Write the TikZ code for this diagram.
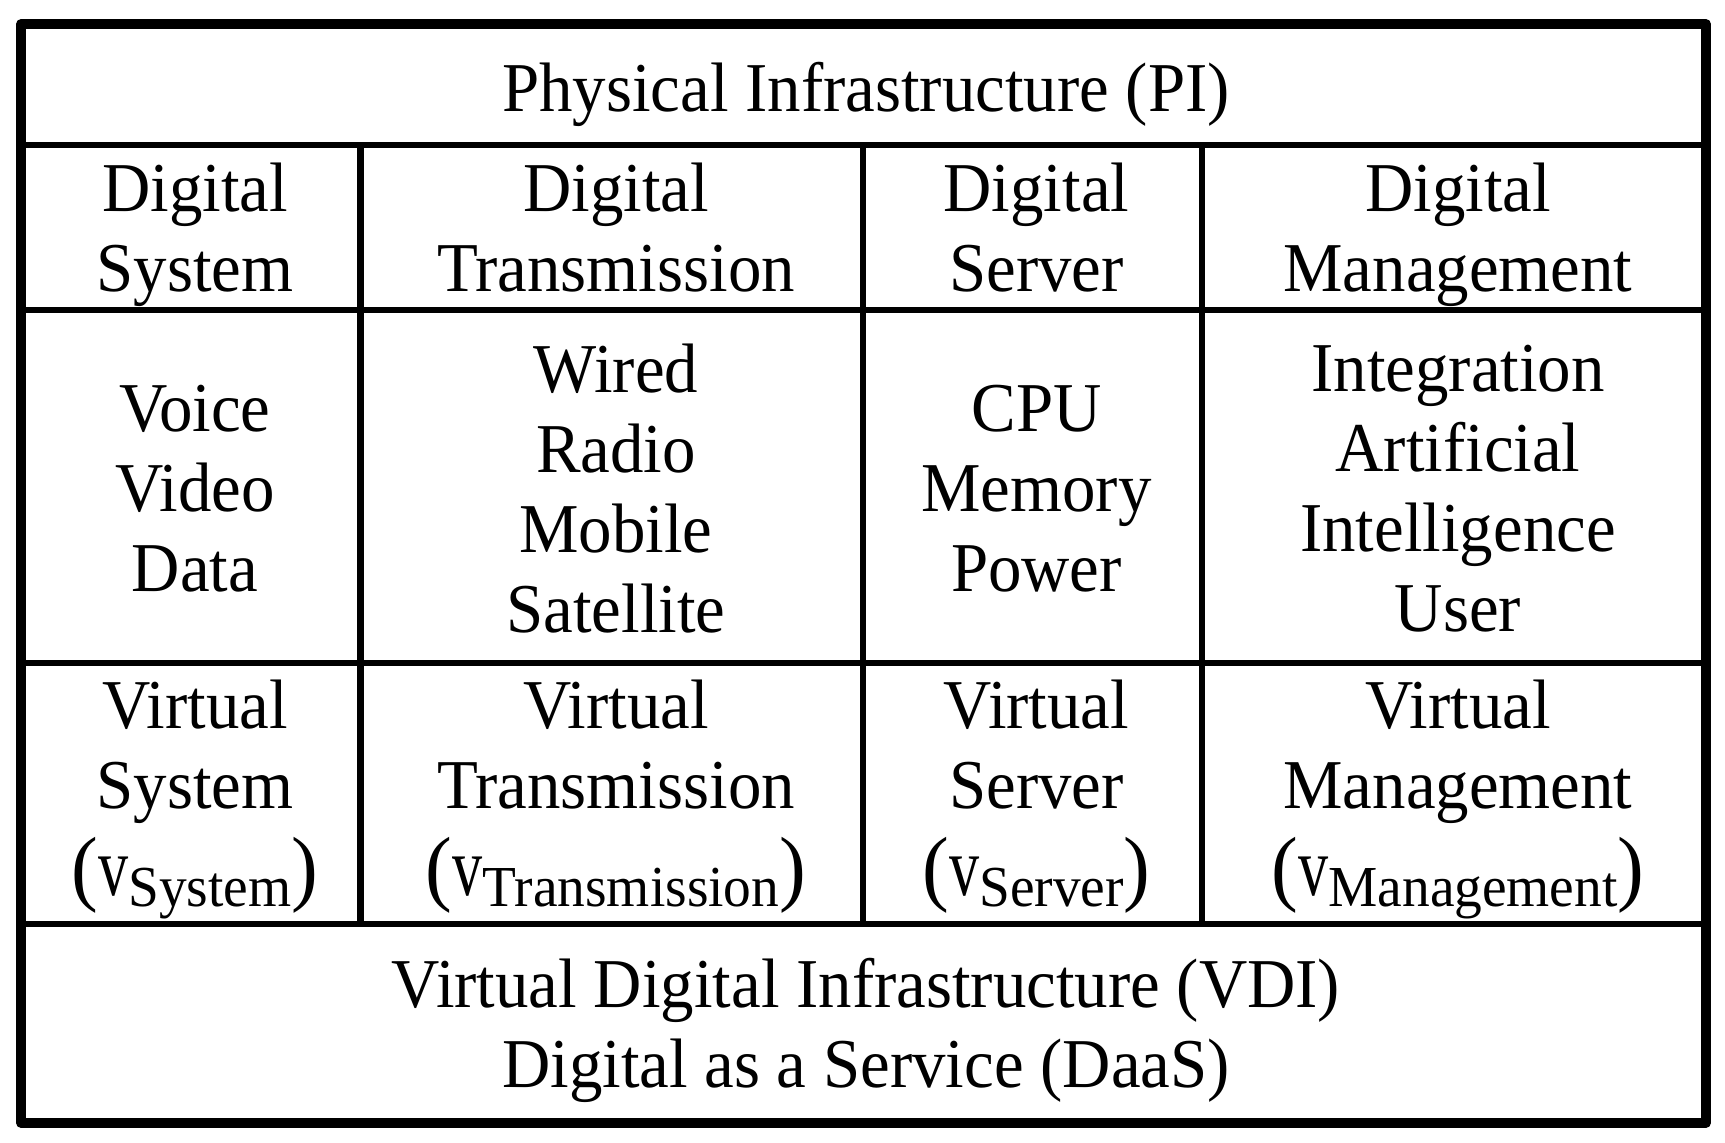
\documentclass[tikz,border=0pt]{standalone}
\usepackage{fontspec}
\usepackage{graphicx}
\usepackage{tikz}
\setmainfont[FakeStretch=0.955]{Liberation Serif}
\newcommand{\celltext}{\fontsize{35}{40}\selectfont}
\newcommand{\vname}[1]{{\fontsize{42}{42}\selectfont(\scalebox{0.75}[1]{v}}\raisebox{-5.5pt}{\fontsize{29}{29}\selectfont #1}{\fontsize{42}{42}\selectfont)}}

\begin{document}
\begin{tikzpicture}[x=0.5pt, y=-0.5pt, frame/.style={line width=4.75pt, line join=round}, rule/.style={line width=3.25pt}, cell/.style={align=center, font=\celltext, inner sep=0pt, execute at begin node=\strut, execute at end node=\strut}]
      \useasboundingbox (0,0) rectangle (1725,1143);

      \foreach \y in {145, 310, 663, 924}
      \draw[rule] (21,\y) -- (1706,\y);
      \foreach \x in {360.5, 863, 1202}
      \draw[rule] (\x,145) -- (\x,924);
      \draw[frame] (21,24) rectangle (1706,1123);

      \node[cell] (pi) at (866,96) {Physical Infrastructure (PI)};

      \node[cell] (dsystem) at (195,239.5) {Digital\\System};
      \node[cell] (dtrans) at (616,239.5) {Digital\\Transmission};
      \node[cell] (dserver) at (1036.5,239.5) {Digital\\Server};
      \node[cell] (dmanage) at (1458,239.5) {Digital\\Management};

      \node[cell] (media) at (195,500.5) {Voice\\Video\\Data};
      \node[cell] (links) at (616,500.5) {Wired\\Radio\\Mobile\\Satellite};
      \node[cell] (parts) at (1036.5,500.5) {CPU\\Memory\\Power};
      \node[cell] (tools) at (1458,500.5) {Integration\\Artificial\\Intelligence\\User};

      \node[cell] (vsystem) at (195,799.75) {Virtual\\System\\[3.75pt]\vname{System}};
      \node[cell] (vtrans) at (616,799.75) {Virtual\\Transmission\\[3.75pt]\vname{Transmission}};
      \node[cell] (vserver) at (1036.5,799.75) {Virtual\\Server\\[3.75pt]\vname{Server}};
      \node[cell] (vmanage) at (1458,799.75) {Virtual\\Management\\[3.75pt]\vname{Management}};

      \node[cell] (vdi) at (866,1034.5) {Virtual Digital Infrastructure (VDI)\\Digital as a Service (DaaS)};
    \end{tikzpicture}
\end{document}
